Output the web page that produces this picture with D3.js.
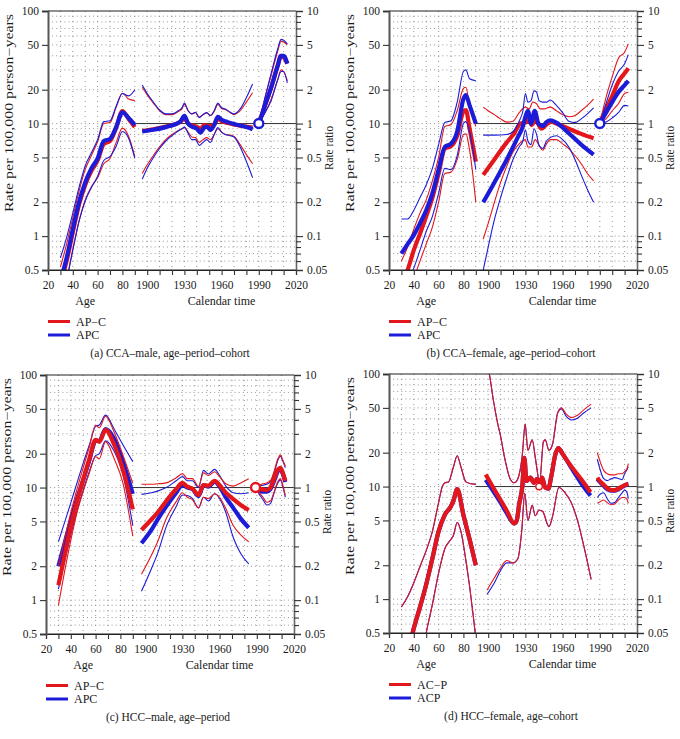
<!DOCTYPE html>
<html><head><meta charset="utf-8">
<script src="https://cdn.jsdelivr.net/npm/d3@7"></script>
<style>
body{margin:0;background:#fff}
text{font-family:"Liberation Serif","DejaVu Serif",serif;fill:#1a1a1a}
</style>
</head><body>
<script>
// ---------------- DATA ----------------
// x-axis ticks (age units; calendar years are shown as age+1800)
const xTickValues = [20,30,40,50,60,70,80,90,100,110,120,130,140,150,160,170,180,190,200,210,220];
const xTickLabels = {20:"20",40:"40",60:"60",80:"80",100:"1900",130:"1930",160:"1960",190:"1990",220:"2020"};
const yLeftTicks = [0.5,1,2,5,10,20,50,100];
const yRightMajor = [0.05,0.1,0.2,0.5,1,2,5,10];
const yRightMinor = [0.06,0.07,0.08,0.09,0.3,0.4,0.6,0.7,0.8,0.9,3,4,6,7,8,9];

// ---- Panel (a) CCA-male, age-period-cohort ----
const aAgeX = [30,35,40,45,50,55,60,65,70,75,80,85,90];
const aAgeRedEst  = [0.38,0.60,1.08,1.9,2.85,3.8,4.7,6.6,7.0,9.2,12.9,11.0,9.3];
const aAgeRedHi   = [0.53,0.85,1.45,2.5,3.9,5.2,6.9,10.0,10.2,14.0,18.6,16.5,16.0];
const aAgeRedLo   = [0.26,0.41,0.76,1.35,2.1,2.75,3.3,4.4,4.9,6.8,9.1,7.7,5.1];
const aAgeBlueEst = [0.40,0.64,1.15,2.0,3.0,4.0,4.9,7.0,7.3,9.3,12.6,11.2,9.7];
const aAgeBlueHi  = [0.64,0.97,1.6,2.7,4.2,5.5,7.2,10.4,10.6,14.3,18.5,17.6,20.0];
const aAgeBlueLo  = [0.24,0.40,0.75,1.35,2.05,2.7,3.4,4.7,5.1,6.3,8.5,7.4,4.9];
const aCohRedEst  = [[1896,0.86],[1905,0.89],[1915,0.94],[1922,0.98],[1927,1.04],[1930,1.12],[1933,1.0],[1936,0.96],[1940,0.94],[1943,0.9],[1946,0.97],[1948,0.96],[1951,0.95],[1954,0.98],[1957,1.1],[1960,1.05],[1965,1.01],[1970,0.98],[1975,0.96],[1980,0.94],[1985,0.92]];
const aCohBlueEst = [[1896,0.85],[1905,0.88],[1915,0.93],[1922,0.98],[1927,1.05],[1930,1.17],[1933,1.0],[1936,0.94],[1940,0.9],[1943,0.83],[1946,0.92],[1948,0.94],[1951,0.88],[1954,0.97],[1957,1.15],[1960,1.08],[1965,1.03],[1970,0.99],[1975,0.96],[1980,0.93],[1985,0.89]];
const aCohBlueHi  = [[1896,2.2],[1900,1.85],[1905,1.55],[1910,1.32],[1915,1.22],[1920,1.22],[1925,1.3],[1928,1.38],[1930,1.52],[1933,1.3],[1936,1.22],[1939,1.26],[1942,1.13],[1945,1.2],[1948,1.25],[1951,1.18],[1954,1.3],[1957,1.52],[1960,1.38],[1963,1.35],[1967,1.26],[1970,1.22],[1975,1.35],[1980,1.7],[1985,2.25]];
const aCohRedHi   = [[1896,2.1],[1900,1.8],[1905,1.52],[1910,1.3],[1915,1.2],[1920,1.2],[1925,1.28],[1928,1.35],[1930,1.48],[1933,1.3],[1936,1.22],[1939,1.25],[1942,1.14],[1945,1.2],[1948,1.24],[1951,1.18],[1954,1.28],[1957,1.48],[1960,1.36],[1963,1.33],[1967,1.25],[1970,1.2],[1975,1.3],[1980,1.55],[1985,1.88]];
const aCohBlueLo  = [[1896,0.32],[1900,0.4],[1905,0.5],[1910,0.6],[1915,0.7],[1920,0.78],[1925,0.86],[1928,0.9],[1930,0.93],[1933,0.82],[1936,0.72],[1939,0.72],[1942,0.64],[1945,0.68],[1948,0.72],[1951,0.68],[1954,0.8],[1957,0.92],[1960,0.84],[1963,0.8],[1967,0.78],[1970,0.76],[1975,0.62],[1980,0.46],[1985,0.33]];
const aCohRedLo   = [[1896,0.36],[1900,0.43],[1905,0.52],[1910,0.62],[1915,0.72],[1920,0.8],[1925,0.87],[1928,0.9],[1930,0.92],[1933,0.84],[1936,0.76],[1939,0.75],[1942,0.68],[1945,0.72],[1948,0.75],[1951,0.72],[1954,0.8],[1957,0.9],[1960,0.84],[1963,0.8],[1967,0.79],[1970,0.77],[1975,0.65],[1980,0.53],[1985,0.44]];
const aPerX = [1990,1995,2000,2005,2008,2010,2013];
const aPerRedEst  = [1,1.45,2.1,3.2,4.0,3.9,3.4];
const aPerRedHi   = [1,1.7,2.7,4.3,5.4,5.3,5.0];
const aPerRedLo   = [1,1.25,1.65,2.4,3.0,2.9,2.4];
const aPerBlueEst = [1,1.45,2.1,3.2,4.0,4.0,3.4];
const aPerBlueHi  = [1,1.7,2.8,4.5,5.6,5.5,5.1];
const aPerBlueLo  = [1,1.25,1.6,2.4,2.9,2.9,2.3];

// ---- Panel (b) CCA-female, age-period-cohort ----
const bAgeX = [30,35,40,45,50,55,60,65,70,75,80,82,85,90];
const bAgeRedEst  = [0.38,0.5,0.75,1.05,1.5,2.2,3.6,6.0,6.3,7.8,12.8,13.2,9.0,4.6];
const bAgeRedHi   = [0.6,0.8,1.15,1.6,2.1,3.1,5.0,9.4,9.8,13,20.5,21,14,9.5];
const bAgeRedLo   = [0.24,0.3,0.42,0.6,0.85,1.2,2.0,3.6,3.7,4.8,8.0,8.1,5.8,2.0];
const bAgeBlueEst = [0.70,0.85,1.02,1.3,1.7,2.4,3.9,6.2,6.6,8.5,16.5,17.9,14.5,10.0];
const bAgeBlueHi  = [1.42,1.42,1.7,2.2,2.85,4.0,6.5,10.2,10.6,15.5,29,30,25,24];
const bAgeBlueLo  = [0.33,0.4,0.52,0.75,1.1,1.5,2.4,4.0,3.9,5.2,10.0,10.4,8.5,3.9];
const bCohBlueEst = [[1896,0.2],[1905,0.3],[1915,0.48],[1924,0.76],[1928,0.95],[1930,1.15],[1932,1.3],[1934.5,1.0],[1937.5,1.3],[1940.5,1.0],[1944,0.95],[1947,1.03],[1950,1.07],[1955,1.02],[1965,0.82],[1975,0.65],[1985,0.53]];
const bCohRedEst  = [[1896,0.35],[1905,0.48],[1915,0.68],[1921,0.82],[1926,1.0],[1930,1.02],[1933,1.1],[1935,0.97],[1938,1.08],[1943,0.9],[1947,0.98],[1951,1.04],[1955,1.0],[1965,0.9],[1975,0.81],[1985,0.74]];
const bCohBlueHi  = [[1896,0.79],[1905,0.79],[1915,0.8],[1920,0.85],[1925,1.05],[1928,1.3],[1930,1.85],[1932,1.55],[1934.5,1.6],[1937,1.95],[1939,1.9],[1941,1.6],[1944,1.55],[1947,1.55],[1950,1.62],[1955,1.45],[1960,1.25],[1965,1.05],[1970,1.02],[1975,1.1],[1980,1.22],[1985,1.38]];
const bCohRedHi   = [[1896,1.4],[1900,1.3],[1905,1.2],[1910,1.1],[1915,1.03],[1920,1.05],[1925,1.25],[1930,1.4],[1933,1.35],[1936,1.55],[1939,1.5],[1942,1.35],[1945,1.35],[1950,1.4],[1955,1.3],[1960,1.2],[1965,1.15],[1970,1.18],[1975,1.3],[1980,1.45],[1985,1.65]];
const bCohBlueLo  = [[1896,0.05],[1900,0.08],[1905,0.14],[1910,0.22],[1915,0.33],[1920,0.48],[1925,0.62],[1928,0.7],[1930,0.88],[1932,0.7],[1934.5,0.65],[1937,0.9],[1939,0.8],[1941,0.64],[1944,0.6],[1947,0.7],[1950,0.75],[1955,0.78],[1960,0.72],[1965,0.62],[1970,0.48],[1975,0.35],[1980,0.26],[1985,0.2]];
const bCohRedLo   = [[1896,0.094],[1900,0.13],[1905,0.2],[1910,0.3],[1915,0.42],[1920,0.56],[1925,0.66],[1930,0.72],[1932,0.62],[1935,0.62],[1938,0.72],[1941,0.64],[1944,0.58],[1947,0.66],[1950,0.72],[1955,0.72],[1960,0.66],[1965,0.6],[1970,0.52],[1975,0.44],[1980,0.36],[1985,0.31]];
const bPerX = [1990,1995,2000,2005,2010,2013];
const bPerRedEst  = [1,1.35,1.75,2.35,2.8,3.1];
const bPerRedHi   = [1,1.7,2.6,3.8,4.3,5.1];
const bPerRedLo   = [1,1.1,1.3,1.5,1.85,1.9];
const bPerBlueEst = [1,1.25,1.55,1.9,2.2,2.4];
const bPerBlueHi  = [1,1.5,2.2,2.9,3.4,4.1];
const bPerBlueLo  = [1,1.03,1.12,1.25,1.45,1.43];

// ---- Panel (c) HCC-male, age-period ----
const cAgeX = [30,35,40,45,50,55,60,63,68,75,82,90];
const cAgeRedEst  = [1.36,2.5,4.5,7.5,11.7,18,26.5,25.5,32.5,24,14.5,6.4];
const cAgeRedHi   = [2.0,3.5,6.0,9.7,15,23,36,34,43,31,19.5,10.9];
const cAgeRedLo   = [0.9,1.8,3.4,6.0,9.2,13.5,18.8,18,25.6,18,11,3.7];
const cAgeBlueEst = [2.0,3.2,5.1,7.9,11.7,17.5,26,26,33,27,17,8.8];
const cAgeBlueHi  = [3.3,4.9,7.3,11,16.5,24,35,36,44,33,24,17];
const cAgeBlueLo  = [1.25,2.2,3.8,6.2,9.5,14,19.2,20,26,21,13,4.6];
const cCohX = [1897,1905,1910,1917,1925,1930,1934,1938,1943,1947,1951,1956,1960,1965,1971,1977,1983.5];
const cCohRedEst  = [0.42,0.52,0.6,0.76,0.97,1.1,1.02,0.98,0.86,1.05,1.04,1.15,1.05,0.9,0.79,0.7,0.63];
const cCohRedHi   = [1.07,1.07,1.08,1.1,1.22,1.33,1.2,1.2,1.02,1.35,1.28,1.38,1.25,1.08,1.03,1.1,1.2];
const cCohRedLo   = [0.17,0.25,0.33,0.53,0.75,0.9,0.82,0.78,0.66,0.82,0.8,0.88,0.82,0.65,0.46,0.38,0.33];
const cCohBlueEst = [0.32,0.42,0.52,0.68,0.9,1.05,1.0,0.97,0.84,1.05,1.02,1.13,1.02,0.82,0.66,0.53,0.44];
const cCohBlueHi  = [0.87,0.9,0.93,1.0,1.15,1.25,1.15,1.15,1.0,1.42,1.32,1.45,1.28,1.03,0.9,0.88,0.9];
const cCohBlueLo  = [0.12,0.19,0.26,0.45,0.68,0.86,0.85,0.8,0.66,0.82,0.76,0.88,0.8,0.6,0.36,0.26,0.21];
const cPerX = [1989,1992,1995,1998,2001,2004,2007,2009,2011,2013];
const cPerRedEst  = [1,0.97,0.96,0.95,1.0,1.2,1.45,1.5,1.35,1.15];
const cPerRedHi   = [1,1.05,1.08,1.1,1.15,1.4,1.8,1.95,1.75,1.55];
const cPerRedLo   = [1,0.9,0.82,0.74,0.76,0.92,1.13,1.2,1.05,0.85];
const cPerBlueEst = [1,0.94,0.92,0.92,0.97,1.15,1.4,1.47,1.32,1.12];
const cPerBlueHi  = [1,1.03,1.05,1.07,1.12,1.35,1.75,1.9,1.72,1.5];
const cPerBlueLo  = [1,0.87,0.78,0.7,0.72,0.9,1.1,1.17,1.02,0.82];

// ---- Panel (d) HCC-female, age-cohort ----
const dAgeEst = [[38,0.45],[40,0.55],[45,0.85],[50,1.35],[55,2.3],[60,4.0],[65,5.6],[70,6.7],[72,7.5],[75,9.5],[80,5.6],[85,3.4],[90,2.0]];
const dAgeHi  = [[30,0.85],[35,1.05],[40,1.4],[45,1.95],[50,2.7],[55,4.0],[60,7.2],[63,10.0],[65,10.8],[68,11.0],[72,15],[75,18.8],[78,15],[82,11],[86,10.6],[90,10.5]];
const dAgeLo  = [[45,0.25],[50,0.5],[55,0.9],[60,1.7],[65,2.8],[70,3.4],[72,3.7],[75,4.8],[78,4.0],[82,2.2],[85,1.3],[88,0.7],[90,0.45]];
const dCohRedEst  = [[1898,1.28],[1905,0.94],[1910,0.76],[1915,0.61],[1921,0.47],[1923,0.5],[1925,0.7],[1927.5,1.0],[1929.2,1.8],[1930.8,1.12],[1934,1.2],[1937,1.08],[1939.5,1.17],[1941.5,1.05],[1943.5,1.2],[1946,0.98],[1948.5,0.96],[1951,1.25],[1954,1.9],[1956.5,2.2],[1960,1.95],[1965,1.62],[1970,1.37],[1975,1.16],[1982.5,0.89]];
const dCohBlueEst = [[1898,1.15],[1905,0.88],[1910,0.72],[1915,0.58],[1921,0.47],[1923,0.5],[1925,0.7],[1927.5,1.0],[1929.2,1.8],[1930.8,1.12],[1934,1.2],[1937,1.08],[1939.5,1.17],[1941.5,1.05],[1943.5,1.2],[1946,0.98],[1948.5,0.96],[1951,1.25],[1954,1.9],[1956.5,2.2],[1960,1.95],[1965,1.6],[1970,1.3],[1975,1.07],[1982.5,0.83]];
const dCohRedHi   = [[1898,13],[1901,9.9],[1904,6.0],[1907.5,3.7],[1910,2.8],[1913,1.85],[1918,1.15],[1921,1.08],[1924,1.18],[1927.5,1.9],[1929.8,3.6],[1932,2.1],[1935.5,2.6],[1938,1.8],[1941.5,1.1],[1944.5,2.5],[1946,2.6],[1949,2.1],[1952,2.4],[1956,4.5],[1959,5.0],[1963,4.4],[1967,4.1],[1972,4.3],[1977,4.8],[1983,5.4]];
const dCohBlueHi  = [[1898,13],[1901,9.9],[1904,6.0],[1907.5,3.7],[1910,2.8],[1913,1.85],[1918,1.15],[1921,1.08],[1924,1.18],[1927.5,1.9],[1929.8,3.6],[1932,2.1],[1935.5,2.6],[1938,1.8],[1941.5,1.1],[1944.5,2.5],[1946,2.6],[1949,2.1],[1952,2.4],[1956,4.5],[1959,4.9],[1963,4.2],[1967,3.9],[1972,4.05],[1977,4.5],[1983,5.0]];
const dCohRedLo   = [[1899,0.12],[1905,0.155],[1910,0.19],[1915,0.22],[1920,0.21],[1924,0.23],[1927,0.4],[1929.5,0.87],[1932,0.5],[1935.5,0.68],[1938,0.55],[1941,0.62],[1944,0.6],[1949,0.44],[1952,0.55],[1957,0.98],[1962,0.88],[1967,0.72],[1972,0.5],[1977,0.3],[1983,0.15]];
const dCohBlueLo  = [[1899,0.11],[1905,0.14],[1910,0.18],[1915,0.21],[1920,0.21],[1924,0.23],[1927,0.4],[1929.5,0.87],[1932,0.5],[1935.5,0.68],[1938,0.55],[1941,0.62],[1944,0.6],[1949,0.44],[1952,0.55],[1957,0.98],[1962,0.88],[1967,0.72],[1972,0.5],[1977,0.3],[1983,0.15]];
const dPerX = [1988,1990,1993,1996,1999,2002,2005,2008,2010,2012,2013];
const dPerRedEst  = [1.2,1.12,1.04,0.97,0.93,0.93,0.96,1.0,1.03,1.05,1.06];
const dPerRedHi   = [2.0,1.7,1.4,1.3,1.27,1.27,1.3,1.3,1.36,1.45,1.6];
const dPerRedLo   = [0.71,0.73,0.76,0.72,0.69,0.7,0.76,0.8,0.8,0.77,0.71];
const dPerBlueEst = [1.17,1.1,1.02,0.95,0.92,0.92,0.95,0.99,1.02,1.04,1.04];
const dPerBlueHi  = [1.75,1.45,1.18,1.13,1.17,1.2,1.18,1.15,1.3,1.42,1.5];
const dPerBlueLo  = [0.8,0.85,0.88,0.78,0.71,0.72,0.8,0.88,0.93,0.88,0.78];

// ---------------- DRAWING ----------------
const RED = "#e3161c", BLUE = "#1c1cd8";
const zip = (xs, ys) => xs.map((x,i)=>[x, ys[i]]);
const PW = 248, PH = 259;
const svg = d3.select("body").append("svg").attr("width",680).attr("height",739);

const x = d3.scaleLinear().domain([20,220]).range([0,PW]);
const yL = d3.scaleLog().domain([0.5,100]).range([PH,0]);
const yR = d3.scaleLog().domain([0.05,10]).range([PH,0]);

function drawPanel(p, idx){
  const g = svg.append("g").attr("transform",`translate(${p.ox},${p.oy})`);
  const clipId = "clip"+idx;
  g.append("clipPath").attr("id",clipId).append("rect").attr("width",PW).attr("height",PH);

  // grid
  const gy = [];
  [0.1,1,10].forEach(dec => { for(let k=1;k<=9;k++){ const v=k*dec; if(v>0.5 && v<100) gy.push(v);} });
  g.append("g").selectAll("line").data(gy).join("line")
    .attr("x1",0).attr("x2",PW).attr("y1",d=>yL(d)).attr("y2",d=>yL(d))
    .attr("stroke","#8a8a8a").attr("stroke-width",0.9).attr("stroke-dasharray","1,3.1");
  g.append("g").selectAll("line").data(d3.range(30,220,10)).join("line")
    .attr("y1",0).attr("y2",PH).attr("x1",d=>x(d)).attr("x2",d=>x(d))
    .attr("stroke","#8a8a8a").attr("stroke-width",0.9).attr("stroke-dasharray","1,4");

  // reference line at ratio 1
  g.append("line").attr("x1",x(90)).attr("x2",PW).attr("y1",yR(1)).attr("y2",yR(1))
    .attr("stroke","#333").attr("stroke-width",1);

  const plot = g.append("g").attr("clip-path",`url(#${clipId})`);
  const lineAge = d3.line().x(d=>x(d[0])).y(d=>yL(d[1])).curve(d3.curveMonotoneX);
  const lineCal = d3.line().x(d=>x(d[0]-1800)).y(d=>yR(d[1])).curve(d3.curveMonotoneX);

  p.order.forEach(col => {
    const s = p.series[col];
    const color = col==="red" ? RED : BLUE;
    s.thin.forEach(t => {
      plot.append("path").datum(t.data).attr("d", t.cal ? lineCal : lineAge)
        .attr("fill","none").attr("stroke",color).attr("stroke-width",1.1);
    });
    s.thick.forEach(t => {
      plot.append("path").datum(t.data).attr("d", t.cal ? lineCal : lineAge)
        .attr("fill","none").attr("stroke",color).attr("stroke-width",4.2)
        .attr("stroke-linejoin","round").attr("stroke-linecap","butt");
    });
  });

  // reference point
  g.append("circle").attr("cx",x(p.circle.year-1800)).attr("cy",yR(1)).attr("r",p.circle.r)
    .attr("fill","#fff").attr("stroke",p.circle.color).attr("stroke-width",p.circle.sw);

  // frame
  g.append("line").attr("x1",0).attr("x2",PW).attr("y1",0).attr("y2",0).attr("stroke","#222").attr("stroke-width",1.2);
  g.append("line").attr("x1",0).attr("x2",PW).attr("y1",PH).attr("y2",PH).attr("stroke","#222").attr("stroke-width",1.2);

  // axes
  const ax = g.append("g").attr("transform",`translate(0,${PH})`)
    .call(d3.axisBottom(x).tickValues(xTickValues).tickFormat(d=>xTickLabels[d]||"").tickSize(5).tickPadding(6));
  const al = g.append("g").call(d3.axisLeft(yL).tickValues(yLeftTicks).tickFormat(d=>String(d)).tickSize(6).tickPadding(3));
  const ar = g.append("g").attr("transform",`translate(${PW},0)`)
    .call(d3.axisRight(yR).tickValues(yRightMajor).tickFormat(d=>String(d)).tickSize(7).tickPadding(4));
  const arm = g.append("g").attr("transform",`translate(${PW},0)`)
    .call(d3.axisRight(yR).tickValues(yRightMinor).tickFormat("").tickSize(5));
  [ax,al,ar,arm].forEach(a=>{
    a.selectAll("text").style("font-size","11.5px").attr("fill","#1a1a1a");
    a.selectAll("line").attr("stroke","#333").attr("stroke-width",1.1);
  });
  ax.select(".domain").attr("stroke","#222").attr("stroke-width",1.2);
  al.select(".domain").attr("stroke","#555").attr("stroke-width",2);
  ar.select(".domain").attr("stroke","#666").attr("stroke-width",1.6);
  arm.select(".domain").remove();

  // axis titles
  g.append("text").attr("transform",`translate(-35,102) rotate(-90)`)
    .attr("text-anchor","middle").style("font-size","11.5px")
    .attr("textLength",198).attr("lengthAdjust","spacingAndGlyphs")
    .text("Rate per 100,000 person\u2212years");
  g.append("text").attr("transform",`translate(${PW+37},137) rotate(-90)`)
    .attr("text-anchor","middle").style("font-size","12px")
    .attr("textLength",44).attr("lengthAdjust","spacingAndGlyphs")
    .text("Rate ratio");
  g.append("text").attr("x",x(50)).attr("y",PH+35).attr("text-anchor","middle").style("font-size","12px").text("Age");
  g.append("text").attr("x",x(160)).attr("y",PH+35).attr("text-anchor","middle").style("font-size","12px").text("Calendar time");

  // legend
  p.legend.forEach((lab,i)=>{
    const yy = 310.5 + i*13.5;
    g.append("line").attr("x1",0).attr("x2",22).attr("y1",yy).attr("y2",yy)
      .attr("stroke", i===0?RED:BLUE).attr("stroke-width",3);
    g.append("text").attr("x",28).attr("y",yy+4.3).style("font-size","12px").text(lab);
  });
  g.append("text").attr("x",122).attr("y",345.5).attr("text-anchor","middle").style("font-size","11.5px").text(p.caption);
}

function mk(ageX, cohX, perX){
  return (ageE, ageH, ageL, cohE, cohH, cohL, perE, perH, perL) => ({
    thin: [
      {data: ageX ? zip(ageX, ageH) : ageH},
      {data: ageX ? zip(ageX, ageL) : ageL},
      {data: cohX ? zip(cohX, cohH) : cohH, cal:true},
      {data: cohX ? zip(cohX, cohL) : cohL, cal:true},
      {data: zip(perX, perH), cal:true},
      {data: zip(perX, perL), cal:true}
    ],
    thick: [
      {data: ageX ? zip(ageX, ageE) : ageE},
      {data: cohX ? zip(cohX, cohE) : cohE, cal:true},
      {data: zip(perX, perE), cal:true}
    ]
  });
}

const panels = [
  { ox:48, oy:11, order:["red","blue"], legend:["AP\u2212C","APC"],
    caption:"(a)  CCA\u2013male, age\u2013period\u2013cohort",
    circle:{year:1990, color:BLUE, r:4.5, sw:2.4},
    series:{
      red: mk(aAgeX,null,aPerX)(aAgeRedEst,aAgeRedHi,aAgeRedLo,aCohRedEst,aCohRedHi,aCohRedLo,aPerRedEst,aPerRedHi,aPerRedLo),
      blue: mk(aAgeX,null,aPerX)(aAgeBlueEst,aAgeBlueHi,aAgeBlueLo,aCohBlueEst,aCohBlueHi,aCohBlueLo,aPerBlueEst,aPerBlueHi,aPerBlueLo)
    }},
  { ox:389, oy:11, order:["red","blue"], legend:["AP\u2212C","APC"],
    caption:"(b)  CCA\u2013female, age\u2013period\u2013cohort",
    circle:{year:1990, color:BLUE, r:4.5, sw:2.4},
    series:{
      red: mk(bAgeX,null,bPerX)(bAgeRedEst,bAgeRedHi,bAgeRedLo,bCohRedEst,bCohRedHi,bCohRedLo,bPerRedEst,bPerRedHi,bPerRedLo),
      blue: mk(bAgeX,null,bPerX)(bAgeBlueEst,bAgeBlueHi,bAgeBlueLo,bCohBlueEst,bCohBlueHi,bCohBlueLo,bPerBlueEst,bPerBlueHi,bPerBlueLo)
    }},
  { ox:46, oy:375, order:["blue","red"], legend:["AP\u2212C","APC"],
    caption:"(c)  HCC\u2013male, age\u2013period",
    circle:{year:1989, color:RED, r:4.5, sw:2.4},
    series:{
      red: mk(cAgeX,cCohX,cPerX)(cAgeRedEst,cAgeRedHi,cAgeRedLo,cCohRedEst,cCohRedHi,cCohRedLo,cPerRedEst,cPerRedHi,cPerRedLo),
      blue: mk(cAgeX,cCohX,cPerX)(cAgeBlueEst,cAgeBlueHi,cAgeBlueLo,cCohBlueEst,cCohBlueHi,cCohBlueLo,cPerBlueEst,cPerBlueHi,cPerBlueLo)
    }},
  { ox:389, oy:374, order:["blue","red"], legend:["AC\u2212P","ACP"],
    caption:"(d)  HCC\u2013female, age\u2013cohort",
    circle:{year:1941, color:RED, r:3.2, sw:1.4},
    series:{
      red: mk(null,null,dPerX)(dAgeEst,dAgeHi,dAgeLo,dCohRedEst,dCohRedHi,dCohRedLo,dPerRedEst,dPerRedHi,dPerRedLo),
      blue: mk(null,null,dPerX)(dAgeEst,dAgeHi,dAgeLo,dCohBlueEst,dCohBlueHi,dCohBlueLo,dPerBlueEst,dPerBlueHi,dPerBlueLo)
    }}
];
panels.forEach((p,i)=>drawPanel(p,i));
</script>
</body></html>
